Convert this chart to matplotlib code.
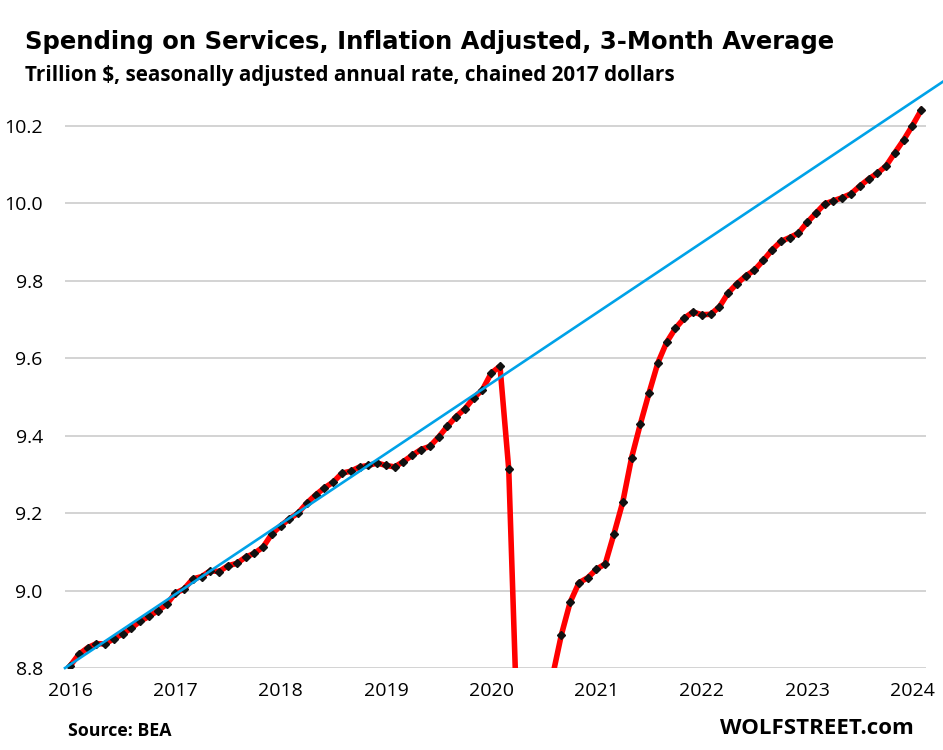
import matplotlib
matplotlib.use("Agg")
import matplotlib.pyplot as plt
import numpy as np

plt.rcParams['font.family'] = ['Open Sans', 'DejaVu Sans']

# Monthly 3-month average, Jan 2016 .. Feb 2024 (trillion $, chained 2017)
values = [
    8.805, 8.835, 8.852, 8.863, 8.862, 8.876, 8.888, 8.903, 8.921, 8.933, 8.948, 8.964,   # 2016
    8.993, 9.004, 9.030, 9.036, 9.051, 9.049, 9.064, 9.070, 9.086, 9.096, 9.112, 9.146,   # 2017
    9.167, 9.185, 9.200, 9.226, 9.247, 9.265, 9.280, 9.303, 9.308, 9.319, 9.323, 9.329,   # 2018
    9.323, 9.319, 9.333, 9.349, 9.364, 9.372, 9.396, 9.424, 9.449, 9.469, 9.497, 9.518,   # 2019
    9.561, 9.579, 9.313, 8.620, 8.200, 8.250, 8.550, 8.780, 8.886, 8.970, 9.020, 9.033,   # 2020
    9.055, 9.069, 9.147, 9.229, 9.343, 9.430, 9.511, 9.588, 9.641, 9.677, 9.703, 9.719,   # 2021
    9.712, 9.713, 9.732, 9.768, 9.792, 9.812, 9.827, 9.852, 9.879, 9.901, 9.911, 9.922,   # 2022
    9.950, 9.974, 9.998, 10.006, 10.014, 10.024, 10.044, 10.062, 10.077, 10.096, 10.130, 10.163,  # 2023
    10.200, 10.240,                                                                        # 2024
]
year_labels = ["2016", "2017", "2018", "2019", "2020", "2021", "2022", "2023", "2024"]
y_ticks = [8.8, 9.0, 9.2, 9.4, 9.6, 9.8, 10.0, 10.2]

# Pre-pandemic trend line (start / end values, month index)
trend_x = [-0.57, 100.0]
trend_y = [8.800, 10.3214]

months = np.arange(len(values))

fig = plt.figure(figsize=(9.43, 7.5), dpi=100)
ax = fig.add_axes([65/943, (750-668)/750, (926-65)/943, (668-86.9)/750])

ax.set_xlim(-0.57, 97.55)
ax.set_ylim(8.8, 10.3)

ax.set_yticks(y_ticks)
ax.set_yticklabels([f"{v:.1f}" for v in y_ticks])
ax.set_xticks(np.arange(0, 97, 12))
ax.set_xticklabels(year_labels)

ax.grid(axis='y', color='#d0d0d0', linewidth=1.3)
ax.set_axisbelow(True)
for s in ax.spines.values():
    s.set_visible(False)
ax.tick_params(axis='both', length=0, labelsize=14, colors='black')
ax.tick_params(axis='y', pad=16)
ax.tick_params(axis='x', pad=10)

ax.plot(months, values, color='#ff0000', linewidth=4.0, zorder=3,
        marker='D', markersize=4.0, markerfacecolor='#111111',
        markeredgecolor='#111111', solid_joinstyle='round')

ax.plot(trend_x, trend_y, color='#00a2e8', linewidth=1.9, zorder=4, clip_on=False)

fig.text(25/943, 1 - 42/750, "Spending on Services, Inflation Adjusted, 3-Month Average",
         fontsize=17.5, fontweight='bold', va='center', ha='left',
         family=['DejaVu Sans'])
fig.text(25/943, 1 - 75/750, "Trillion $, seasonally adjusted annual rate, chained 2017 dollars",
         fontsize=14.9, fontweight='bold', va='center', ha='left')
fig.text(68/943, 1 - 731/750, "Source: BEA", fontsize=12.8, fontweight='bold',
         va='center', ha='left')
fig.text(914/943, 1 - 729/750, "WOLFSTREET.com", fontsize=16, fontweight='bold',
         va='center', ha='right')

fig.savefig("out.png", dpi=100)
